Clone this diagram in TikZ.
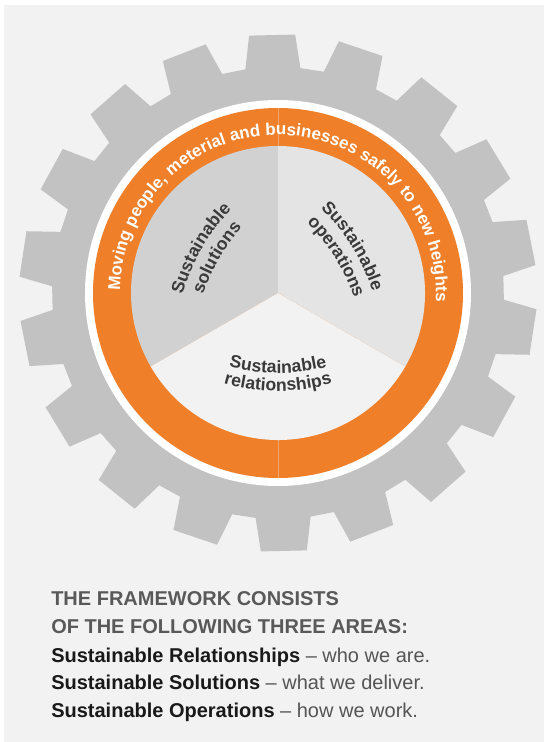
\documentclass[tikz,border=0pt]{standalone}
\usepackage{fontspec}
\setmainfont{Liberation Sans}
\setsansfont{Liberation Sans}
\usetikzlibrary{decorations.text}

\definecolor{pagegray}{HTML}{F2F2F2}
\definecolor{geargray}{HTML}{C2C2C2}
\definecolor{ringorange}{HTML}{EF7F29}
\definecolor{seamorange}{HTML}{F5A56A}
\definecolor{solgray}{HTML}{D1D1D1}
\definecolor{opsgray}{HTML}{E4E4E4}
\definecolor{relgray}{HTML}{F2F2F2}
\definecolor{labelgray}{HTML}{3A3A3A}
\definecolor{headgray}{HTML}{595959}
\definecolor{textgray}{HTML}{555555}

\newcommand{\ringfont}{\fontsize{12.75}{15}\selectfont\bfseries}
\newcommand{\labelfont}{\fontsize{13.25}{16}\selectfont\bfseries}

\begin{document}
\begin{tikzpicture}[x=0.75pt,y=0.75pt,
  labelpath/.style={decorate,decoration={text along path,text align=center,
    text color=labelgray,text={|\labelfont|#1}}},
  seam/.style={seamorange,line width=0.4pt},
  head/.style={anchor=base west,inner sep=0pt,text=headgray,
    font=\fontsize{15}{18}\selectfont\bfseries},
  item/.style={anchor=base west,inner sep=0pt,text=black!90,
    font=\fontsize{15}{18}\selectfont}]
  \useasboundingbox (-278,-449) rectangle (266,293);
  \fill [pagegray] (-274,-449) rectangle (266,288);

  % gear, 18 teeth
  \fill [geargray] ({91.3-7}:226)
    \foreach \i in {0,...,17}
    {
      -- ({91.3+20*\i-7}:226) -- ({91.3+20*\i-5.1}:259)
      -- ({91.3+20*\i+5.1}:259) -- ({91.3+20*\i+7}:226)
    } -- cycle;

  \fill [white] (0,0) circle (193);
  \fill [ringorange] (0,0) circle (185);
  \draw [seam] (90:147) -- (90:185);
  \draw [seam] (270:147) -- (270:185);

  % three areas
  \fill [solgray] (0,0) -- (90:147) arc (90:210:147) -- cycle;
  \fill [relgray] (0,0) -- (210:147) arc (210:330:147) -- cycle;
  \fill [opsgray] (0,0) -- (330:147) arc (330:450:147) -- cycle;

  \path [decorate,decoration={text along path,text align=center,text color=white,
    text={|\ringfont|Moving people, meterial and businesses safely to new heights}}]
    (185:158) arc (185:-9:158);

  \path [labelpath=Sustainable,shift={(150:-112)}] (175:200) arc (175:125:200);
  \path [labelpath=solutions,shift={(150:-132)}] (175:200) arc (175:125:200);
  \path [labelpath=Sustainable,shift={(32:-113)}] (57:200) arc (57:7:200);
  \path [labelpath=operations,shift={(32:-133)}] (57:200) arc (57:7:200);
  \path [labelpath=Sustainable,shift={(0,120)}] (245:200) arc (245:295:200);
  \path [labelpath=relationships,shift={(0,102)}] (245:200) arc (245:295:200);

  \node [head] (head1) at (-227,-312) {THE FRAMEWORK CONSISTS};
  \node [head] (head2) at (-227,-340) {OF THE FOLLOWING THREE AREAS:};
  \node [item] (rel) at (-227,-369)
    {\textbf{Sustainable Relationships} {\color{textgray}– who we are.}};
  \node [item] (sol) at (-227,-396)
    {\textbf{Sustainable Solutions} {\color{textgray}– what we deliver.}};
  \node [item] (ops) at (-227,-424)
    {\textbf{Sustainable Operations} {\color{textgray}– how we work.}};
\end{tikzpicture}
\end{document}
